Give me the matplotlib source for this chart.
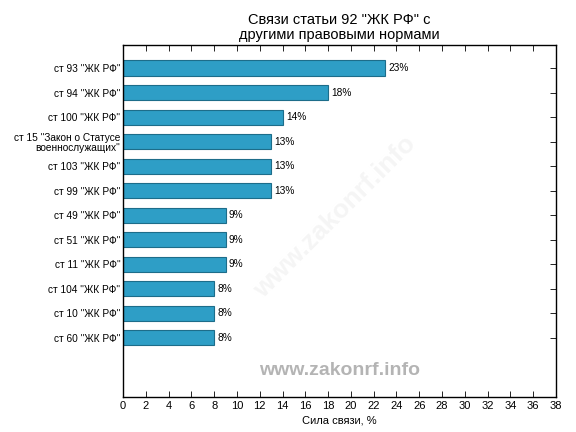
import numpy as np
import matplotlib.pyplot as plt

plt.rcParams['font.family'] = ['Liberation Sans', 'DejaVu Sans']

labels = ['ст 93 "ЖК РФ"', 'ст 94 "ЖК РФ"', 'ст 100 "ЖК РФ"',
          'ст 15 "Закон о Статусе\nвоеннослужащих"', 'ст 103 "ЖК РФ"',
          'ст 99 "ЖК РФ"', 'ст 49 "ЖК РФ"', 'ст 51 "ЖК РФ"', 'ст 11 "ЖК РФ"',
          'ст 104 "ЖК РФ"', 'ст 10 "ЖК РФ"', 'ст 60 "ЖК РФ"']
values = [23, 18, 14, 13, 13, 13, 9, 9, 9, 8, 8, 8]

fig = plt.figure(figsize=(5.76, 4.32), dpi=100)
ax = fig.add_axes([123 / 576, 1 - 397 / 432, (556 - 123) / 576, (397 - 45) / 432])

# faint diagonal watermark behind the bars
ax.text(0.49, 0.51, 'www.zakonrf.info', transform=ax.transAxes, ha='center', va='center',
        fontsize=19, fontweight='bold', color='#f5f5f5', rotation=45, zorder=0)

y = np.arange(len(values))
ax.barh(y, values, height=0.62, color='#2e9ec6', edgecolor='#1d6d8a', linewidth=0.8, zorder=2)
for yi, v in zip(y, values):
    ax.text(v + 0.3, yi, f'{v}%', va='center', ha='left', fontsize=7.3)

ax.set_xlim(0, 38)
ax.set_ylim(len(values) - 1 + 2.41, -0.94)
ax.set_xticks(np.arange(0, 39, 2))
ax.set_yticks(y)
ax.set_yticklabels(labels, fontsize=7.3, linespacing=1.05)
ax.tick_params(axis='x', labelsize=8, direction='in', top=True, length=4, width=0.6, pad=3)
ax.tick_params(axis='y', direction='in', right=True, length=4, width=0.6, pad=2)
for s in ax.spines.values():
    s.set_linewidth(1.0)
ax.set_xlabel('Сила связи, %', fontsize=8, labelpad=3)
ax.set_title('Связи статьи 92 "ЖК РФ" с\nдругими правовыми нормами', fontsize=10.5, pad=4, linespacing=1.1)

ax.text(0.5, 0.075, 'www.zakonrf.info', transform=ax.transAxes, ha='center', va='center',
        fontsize=14, fontweight='bold', color='#b4b4b4')

fig.savefig('out.png', dpi=100)
